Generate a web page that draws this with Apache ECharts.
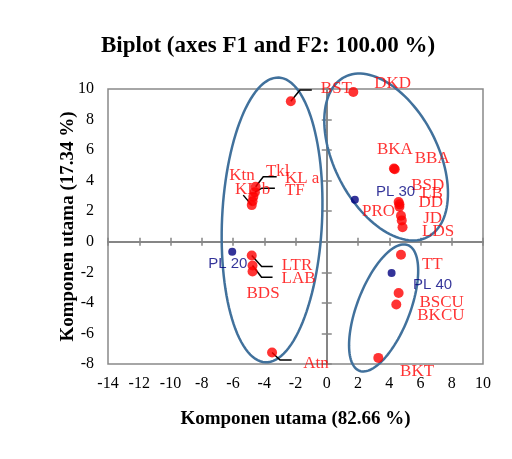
<!DOCTYPE html>
<html><head><meta charset="utf-8">
<script src="https://cdn.jsdelivr.net/npm/echarts@6/dist/echarts.min.js"></script>
<style>html,body{margin:0;padding:0;background:#fff}#c{width:512px;height:459px}</style>
</head><body><div id="c"></div>
<script>
// ---- data ----
const redNames = ['BST','DKD','BKA','BBA','BSD','LB','DD','PRO','JD','LDS','TT','BSCU','BKCU','BKT','Atn','LTR','LAB','BDS','Tkl','KL b','KL a','TF','Ktn'];
const redX = [-2.3, 1.7, 4.3, 4.35, 4.6, 4.65, 4.65, 4.75, 4.8, 4.85, 4.75, 4.6, 4.45, 3.3, -3.5, -4.8, -4.75, -4.75, -4.55, -4.6, -4.7, -4.75, -4.8];
const redY = [9.2, 9.8, 4.8, 4.75, 2.6, 2.45, 2.3, 1.7, 1.4, 0.95, -0.85, -3.35, -4.1, -7.6, -7.25, -0.9, -1.55, -1.95, 3.6, 3.25, 2.95, 2.65, 2.4];
const blueNames = ['PL 20','PL 30','PL 40'];
const blueX = [-6.05, 1.8, 4.15];
const blueY = [-0.65, 2.75, -2.05];
const xMin = -14, xMax = 10, yMin = -8, yMax = 10, tickStep = 2;

// ---- layout / styling (pixel offsets of label left-middle from its point) ----
const redLabelOffsets = [[30,-13],[21,-9],[-17,-18.5],[20,-11],[12.5,-17],[21.8,-10.4],[19,-3.7],[-39,-4],[21.5,-1.4],[19.5,4.4],[21,10],[20.8,10],[21,11.6],[21.8,13.8],[31.2,11.4],[30,10.4],[29,12.8],[-6,21.7],[10.3,-15],[-20,-3],[31.6,-18.4],[32.4,-10.3],[-22.5,-30]];
const blueLabelOffsets = [[-24,12.3],[21,-8],[21.3,12]];
const leaders = [
  {name:'BST', pts:[[9.2,-11.2],[21,-11.2]]},
  {name:'Atn', pts:[[8,7.4],[19.6,7.4]]},
  {name:'LTR', pts:[[9.9,11],[21,11]]},
  {name:'LAB', pts:[[9,11.8],[20,11.8]]},
  {name:'Tkl', pts:[[7.6,-10],[21,-10]]},
  {name:'KL b', pts:[[7,-4],[20,-4]]},
  {name:'Ktn', pts:[[-8.5,-10]]}
];
// annotation ellipses: center (data), semi-axes (x-units), rotation (deg)
const ellipses = [
  [-3.5, 1.43, 9.12, 3.2, 87.3],
  [3.8, 5.55, 5.77, 3.3, -62.5],
  [3.64, -4.33, 4.31, 1.69, 68.9]
];

const serif = 'Liberation Serif';
const redData = redNames.map((n,i)=>({name:n, value:[redX[i], redY[i]], label:{offset:redLabelOffsets[i]}}));
const blueData = blueNames.map((n,i)=>({name:n, value:[blueX[i], blueY[i]], label:{offset:blueLabelOffsets[i]}}));
const leaderData = leaders.map((l,k)=>{const i = redNames.indexOf(l.name); return [redX[i], redY[i], k];});

function baseX(extra){return Object.assign({type:'value', min:xMin, max:xMax, interval:tickStep, splitLine:{show:false}}, extra);}
function baseY(extra){return Object.assign({type:'value', min:yMin, max:yMax, interval:tickStep, splitLine:{show:false}}, extra);}
const zeroLine = {show:true, onZero:true, lineStyle:{color:'#868686', width:2}};
const tickStyle = {color:'#868686', width:1.5};

const chart = echarts.init(document.getElementById('c'), null, {renderer:'canvas'});
chart.setOption({
  animation:false,
  backgroundColor:'#fff',
  title:{text:'Biplot (axes F1 and F2: 100.00 %)', left:101, top:35, padding:0,
    textStyle:{fontFamily:serif, fontWeight:'bold', fontSize:23, color:'#000'}},
  grid:{left:108, right:29, top:89, bottom:95, show:true, borderColor:'#898989', borderWidth:1.5},
  xAxis:[
    baseX({position:'bottom', axisLine:{show:false, onZero:false}, axisTick:{show:false},
      axisLabel:{fontFamily:serif, fontSize:16, color:'#000', margin:12},
      name:'Komponen utama (82.66 %)', nameLocation:'middle', nameGap:46, nameMoveOverlap:false,
      nameTextStyle:{fontFamily:serif, fontWeight:'bold', fontSize:19, color:'#000'}}),
    baseX({position:'bottom', axisLine:zeroLine, axisTick:{show:true, inside:false, length:4, lineStyle:tickStyle}, axisLabel:{show:false}}),
    baseX({position:'bottom', axisLine:zeroLine, axisTick:{show:true, inside:true, length:4, lineStyle:tickStyle}, axisLabel:{show:false}})
  ],
  yAxis:[
    baseY({position:'left', axisLine:{show:false, onZero:false}, axisTick:{show:false},
      axisLabel:{fontFamily:serif, fontSize:16, color:'#000', margin:14},
      name:'Komponen utama (17.34 %)', nameLocation:'middle', nameGap:30, nameMoveOverlap:false,
      nameTextStyle:{fontFamily:serif, fontWeight:'bold', fontSize:19, color:'#000'}}),
    baseY({position:'left', axisLine:zeroLine, axisTick:{show:true, inside:false, length:5, lineStyle:tickStyle}, axisLabel:{show:false}}),
    baseY({position:'left', axisLine:zeroLine, axisTick:{show:true, inside:true, length:5, lineStyle:tickStyle}, axisLabel:{show:false}})
  ],
  series:[
    {type:'custom', coordinateSystem:'cartesian2d', xAxisIndex:0, yAxisIndex:0, z:3, silent:true,
      data:ellipses,
      renderItem:function(params, api){
        const c = api.coord([api.value(0), api.value(1)]);
        const s = api.size([1,1]);
        const a = api.value(2)*s[0], b = api.value(3)*s[0];
        const ang = api.value(4)*Math.PI/180;
        const d = [Math.cos(ang), -Math.sin(ang)], n = [Math.sin(ang), Math.cos(ang)];
        const pts = [];
        for (let k=0;k<120;k++){
          const t = k/120*Math.PI*2;
          const u = a*Math.cos(t), v = b*Math.sin(t);
          pts.push([c[0]+u*d[0]+v*n[0], c[1]+u*d[1]+v*n[1]]);
        }
        return {type:'polygon', shape:{points:pts}, style:{fill:'none', stroke:'#41719C', lineWidth:2.5}};
      }},
    {type:'custom', coordinateSystem:'cartesian2d', xAxisIndex:0, yAxisIndex:0, z:4, silent:true,
      data:leaderData,
      renderItem:function(params, api){
        const c = api.coord([api.value(0), api.value(1)]);
        const offs = leaders[api.value(2)].pts;
        const pts = [c].concat(offs.map(o=>[c[0]+o[0], c[1]+o[1]]));
        return {type:'polyline', shape:{points:pts}, style:{fill:'none', stroke:'#000', lineWidth:1.5}};
      }},
    {type:'scatter', xAxisIndex:0, yAxisIndex:0, z:5, symbolSize:10, itemStyle:{color:'#FF0000'},
      data:redData,
      label:{show:true, position:'inside', align:'left', verticalAlign:'middle', formatter:'{b}',
        color:'#FF0000', fontFamily:serif, fontSize:17}},
    {type:'scatter', xAxisIndex:0, yAxisIndex:0, z:5, symbolSize:8, itemStyle:{color:'#000080'},
      data:blueData,
      label:{show:true, position:'inside', align:'left', verticalAlign:'middle', formatter:'{b}',
        color:'#000080', fontFamily:'Liberation Sans', fontSize:15}}
  ]
});
</script></body></html>
